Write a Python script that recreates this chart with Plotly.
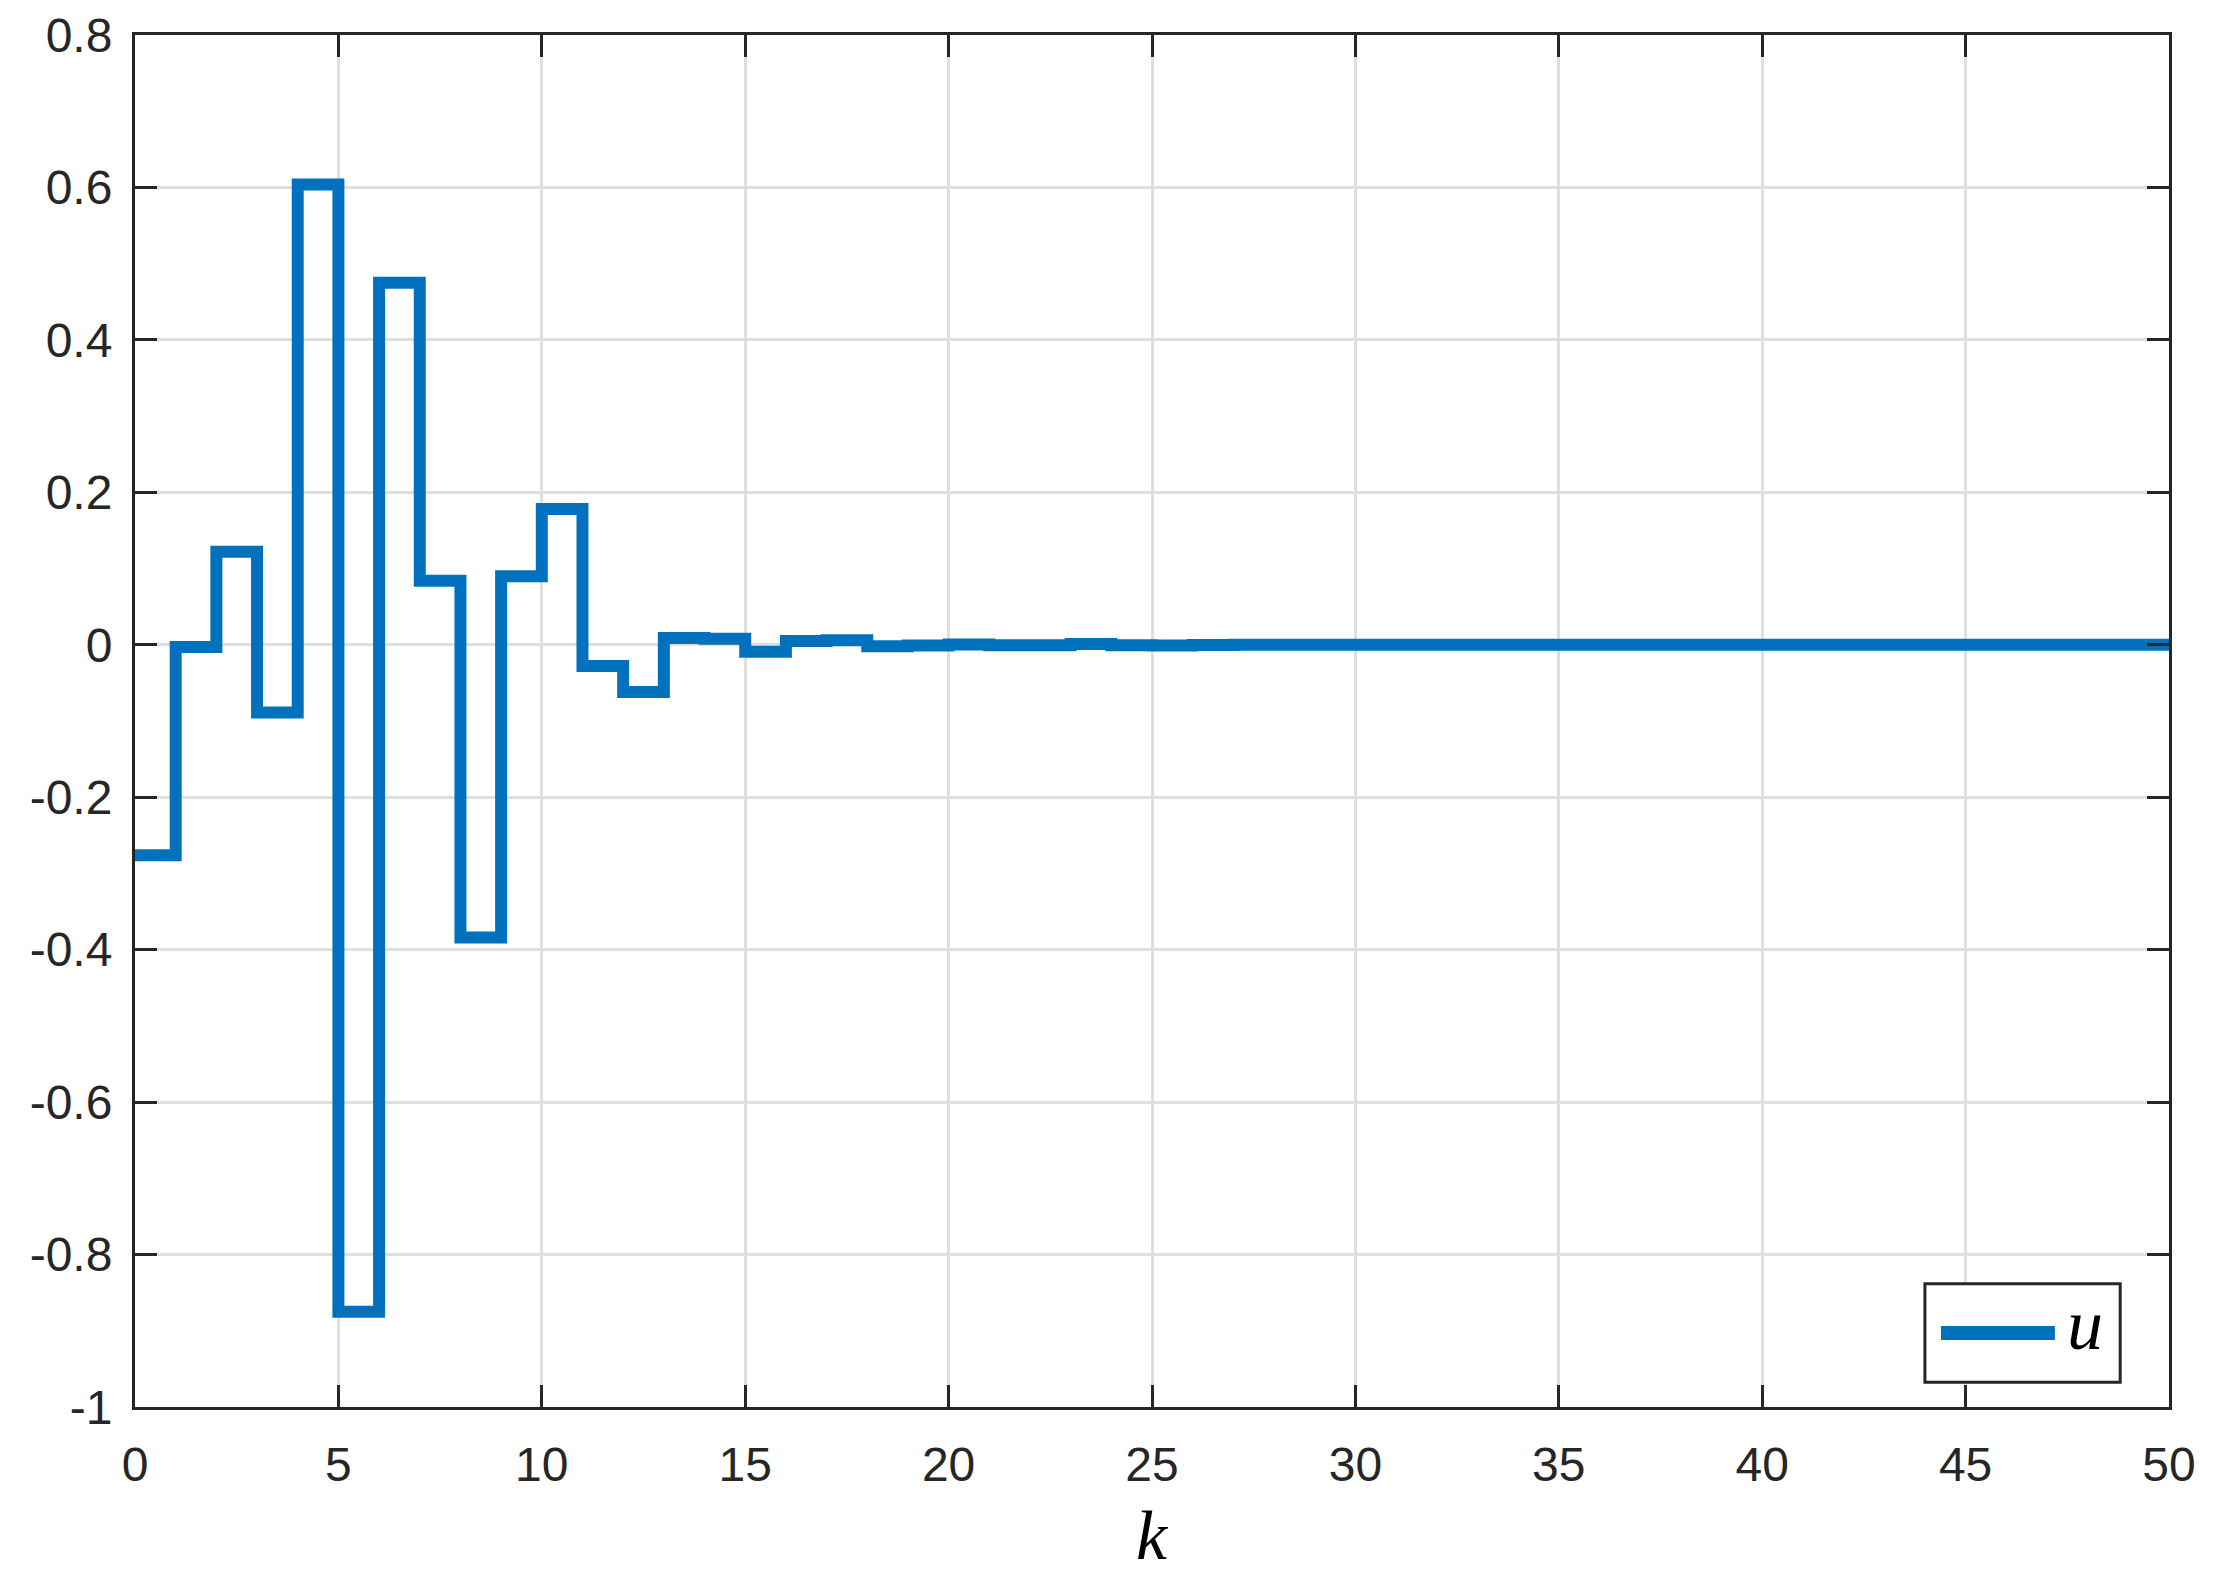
import plotly.graph_objects as go

# time steps and control input
k = list(range(0, 51))
u = [-0.276, -0.003, 0.122, -0.089, 0.604, -0.875, 0.475, 0.084, -0.384, 0.090,
     0.178, -0.028, -0.062, 0.009, 0.008, -0.009, 0.005, 0.006, -0.002, -0.001,
     0.0004, -0.0007, -0.0005, 0.0009, -0.0005, -0.0009, -0.0002, 0.0, 0.0, 0.0,
     0.0, 0.0, 0.0, 0.0, 0.0, 0.0, 0.0, 0.0, 0.0, 0.0,
     0.0, 0.0, 0.0, 0.0, 0.0, 0.0, 0.0, 0.0, 0.0, 0.0, 0.0]

x_ticks = [0, 5, 10, 15, 20, 25, 30, 35, 40, 45, 50]
y_ticks = [-1, -0.8, -0.6, -0.4, -0.2, 0, 0.2, 0.4, 0.6, 0.8]
y_labels = ["-1", "-0.8", "-0.6", "-0.4", "-0.2", "0", "0.2", "0.4", "0.6", "0.8"]

blue = "#0072BD"
dark = "#262626"
serif = "Liberation Serif, Times New Roman"

fig = go.Figure()
fig.add_trace(go.Scatter(x=k, y=u, mode="lines", line=dict(color=blue, width=12, shape="hv"),
                         name="u", showlegend=False))

axis_common = dict(
    showline=True, linecolor=dark, linewidth=3, mirror="ticks",
    ticks="inside", ticklen=22, tickwidth=3, tickcolor=dark,
    showgrid=True, gridcolor="#dfdfdf", gridwidth=2.5, zeroline=False,
    automargin=False,
    tickfont=dict(family="Liberation Sans, Arial", size=48, color=dark),
)

fig.update_xaxes(range=[0, 50], tickvals=x_ticks, ticktext=[str(t) for t in x_ticks],
                 ticklabelstandoff=13, **axis_common)
fig.update_yaxes(range=[-1, 0.8], tickvals=y_ticks, ticktext=y_labels,
                 ticklabelstandoff=10, **axis_common)

# axis label k
fig.add_annotation(text="<i>k</i>", xref="paper", yref="paper", x=0.5, y=-0.094,
                   showarrow=False, xanchor="center", yanchor="middle",
                   font=dict(family=serif, size=70, color="black"))

# legend box drawn by hand so the sample line matches the original length
fig.add_shape(type="rect", xref="paper", yref="paper", x0=0.880, x1=0.976, y0=0.018, y1=0.0899,
              line=dict(color=dark, width=3), fillcolor="white", layer="above")
fig.add_shape(type="line", xref="paper", yref="paper", x0=0.8879, x1=0.9439, y0=0.0539, y1=0.0539,
              line=dict(color=blue, width=14), layer="above")
fig.add_annotation(text="<i>u</i>", xref="paper", yref="paper", x=0.9588, y=0.0600,
                   showarrow=False, xanchor="center", yanchor="middle",
                   font=dict(family=serif, size=72, color="black"))

# page body has an 8px margin, so the figure is sized to fit inside it
fig.update_layout(
    width=2218, height=1554,
    margin=dict(l=127, r=57, t=27, b=155),
    paper_bgcolor="white", plot_bgcolor="white",
)

fig.write_html("out.html")
